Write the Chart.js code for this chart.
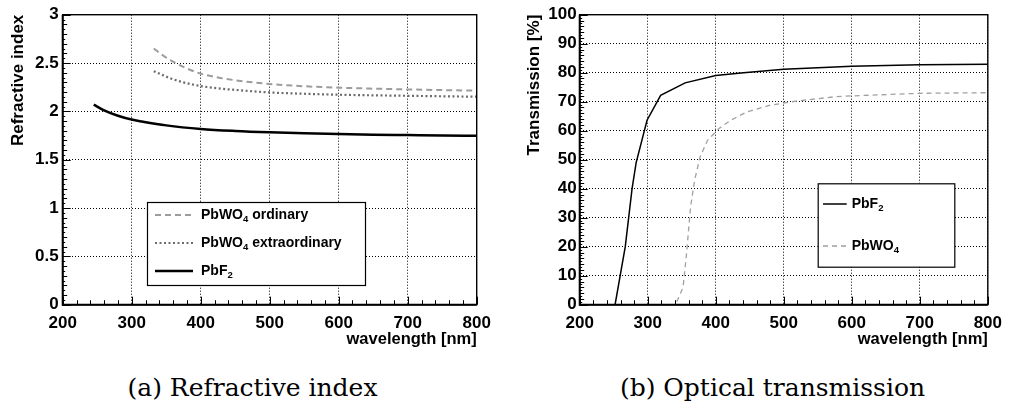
<!DOCTYPE html>
<html>
<head>
<meta charset="utf-8">
<script src="https://cdn.jsdelivr.net/npm/chart.js@4.4.1/dist/chart.umd.min.js"></script>
<style>
  body { margin: 0; background: #fff; }
  #wrap { position: relative; width: 1010px; height: 403px; overflow: hidden; background: #fff; }
  canvas { position: absolute; top: 0; }
  #cvIndex { left: 0; }
  #cvTrans { left: 505px; }
  .caption {
    position: absolute; top: 375px; width: 505px; text-align: center;
    font-family: 'DejaVu Serif', serif; font-size: 25px; line-height: 25px; color: #000;
  }
</style>
</head>
<body>
<div id="wrap">
  <canvas id="cvIndex" width="505" height="355"></canvas>
  <canvas id="cvTrans" width="505" height="355"></canvas>
  <div class="caption" style="left:0">(a) Refractive index</div>
  <div class="caption" style="left:520px">(b) Optical transmission</div>
</div>
<script>
// refractive index vs wavelength
const pbf2Wl = [245, 260, 280, 300, 315, 350, 400, 450, 500, 550, 600, 650, 700, 750, 800];
const pbf2Index = [2.07, 2.01, 1.955, 1.915, 1.895, 1.855, 1.818, 1.797, 1.783, 1.773, 1.765, 1.759, 1.755, 1.751, 1.748];
const pbwo4Wl = [332, 345, 356, 375, 400, 425, 450, 500, 550, 600, 650, 700, 750, 800];
const pbwo4Ordinary = [2.65, 2.58, 2.53, 2.46, 2.39, 2.35, 2.322, 2.283, 2.26, 2.245, 2.235, 2.227, 2.22, 2.214];
const pbwo4Extra = [2.415, 2.375, 2.342, 2.30, 2.262, 2.238, 2.222, 2.196, 2.182, 2.172, 2.166, 2.161, 2.156, 2.152];

// transmission [%] vs wavelength
const transPbf2Wl = [200, 252, 267, 277, 283, 299, 319, 355, 400, 441, 500, 600, 700, 800];
const transPbf2 = [0, 0, 20, 40, 49, 63.6, 72.2, 76.5, 79, 80, 81.2, 82.2, 82.7, 82.9];
const transPbwo4Wl = [200, 341, 352, 357, 363, 369, 377, 388, 405, 422, 446, 480, 518, 575, 600, 700, 800];
const transPbwo4 = [0, 0, 6, 17.5, 33.7, 43, 51, 56.7, 60.8, 63.6, 66.5, 68.8, 70.2, 71.7, 72.0, 72.9, 73.1];

const wlTicks = [200, 300, 400, 500, 600, 700, 800];
const indexTicks = [0, 0.5, 1, 1.5, 2, 2.5, 3];
const transTicks = [0, 10, 20, 30, 40, 50, 60, 70, 80, 90, 100];

Chart.defaults.font.family = '"Liberation Sans", Arial, sans-serif';
Chart.defaults.color = '#000';

function pts(xs, ys) {
  return xs.map((x, i) => ({ x: x, y: ys[i] }));
}

// label text with digits after letters drawn as subscripts (PbF2, PbWO4)
function drawLabel(ctx, text, x, y, size) {
  const parts = text.split(/(?<=[A-Za-z])(\d+)/);
  let cx = x;
  ctx.textBaseline = 'middle';
  ctx.textAlign = 'left';
  parts.forEach((p, i) => {
    const sub = i % 2 === 1;
    ctx.font = 'bold ' + (sub ? size * 0.68 : size) + 'px "Liberation Sans"';
    ctx.fillText(p, cx, sub ? y + size * 0.32 : y);
    cx += ctx.measureText(p).width;
  });
}

// three tick levels: primary, secondary, tertiary
function tickLen(i, major, mid) {
  if (i % major === 0) return 8;
  return i % mid === 0 ? 4.5 : 2.5;
}

// frame, inward tick marks and the boxed legend
const rootFrame = {
  id: 'rootFrame',
  afterDatasetsDraw(chart, args, opts) {
    const { ctx, chartArea: a, scales: { x, y } } = chart;
    ctx.save();
    ctx.strokeStyle = '#000';
    ctx.lineWidth = 1;
    ctx.beginPath();
    const nx = Math.round((x.max - x.min) / opts.xStep);
    for (let i = 0; i <= nx; i++) {
      const px = Math.round(x.getPixelForValue(x.min + i * opts.xStep)) + 0.5;
      ctx.moveTo(px, a.bottom);
      ctx.lineTo(px, a.bottom - tickLen(i, opts.xMajor, opts.xMid));
    }
    const ny = Math.round((y.max - y.min) / opts.yStep);
    for (let i = 0; i <= ny; i++) {
      const py = Math.round(y.getPixelForValue(y.min + i * opts.yStep)) + 0.5;
      ctx.moveTo(a.left, py);
      ctx.lineTo(a.left + tickLen(i, opts.yMajor, opts.yMid), py);
    }
    ctx.stroke();

    ctx.lineWidth = 1.4;
    ctx.strokeRect(a.left, a.top, a.right - a.left, a.bottom - a.top);
    ctx.lineWidth = 2;
    ctx.beginPath();
    ctx.moveTo(a.left, a.top);
    ctx.lineTo(a.left, a.bottom);
    ctx.lineTo(a.right, a.bottom);
    ctx.stroke();

    const L = opts.box;
    ctx.fillStyle = '#fff';
    ctx.fillRect(L.x, L.y, L.w, L.h);
    ctx.lineWidth = 1.2;
    ctx.strokeRect(L.x + 0.5, L.y + 0.5, L.w, L.h);
    L.rows.forEach((ry, i) => {
      const ds = chart.data.datasets[i];
      const yy = L.y + ry;
      ctx.save();
      ctx.strokeStyle = ds.borderColor;
      ctx.lineWidth = ds.borderWidth;
      ctx.setLineDash(ds.borderDash || []);
      ctx.beginPath();
      ctx.moveTo(L.x + L.sample[0], yy);
      ctx.lineTo(L.x + L.sample[1], yy);
      ctx.stroke();
      ctx.restore();
      ctx.fillStyle = '#000';
      drawLabel(ctx, ds.label, L.x + L.textX, yy, 14);
    });
    ctx.restore();
  }
};

function xScale() {
  return {
    type: 'linear', min: 200, max: 800,
    afterBuildTicks: s => { s.ticks = wlTicks.map(v => ({ value: v })); },
    ticks: { callback: v => String(v), font: { size: 17, weight: 'bold' }, padding: 8, maxRotation: 0, autoSkip: false },
    grid: { color: '#000', lineWidth: 1, drawTicks: false },
    border: { display: false, dash: [1, 2] },
    title: { display: true, text: 'wavelength [nm]', align: 'end', font: { size: 16.5, weight: 'bold' }, padding: 0 },
    afterFit: s => { s.height = 45; }
  };
}

function yScale(max, ticks, title, width, titlePad, labelPad) {
  return {
    type: 'linear', min: 0, max: max,
    afterBuildTicks: s => { s.ticks = ticks.map(v => ({ value: v })); },
    ticks: { callback: v => String(v), font: { size: 17, weight: 'bold' }, padding: labelPad, autoSkip: false },
    grid: { color: '#000', lineWidth: 1, drawTicks: false },
    border: { display: false, dash: [1, 2] },
    title: { display: true, text: title, align: 'end', font: { size: 17, weight: 'bold' }, padding: { top: titlePad, bottom: 0 } },
    afterFit: s => { s.width = width; }
  };
}

new Chart(document.getElementById('cvIndex'), {
  type: 'line',
  data: {
    datasets: [
      { label: 'PbWO4 ordinary', data: pts(pbwo4Wl, pbwo4Ordinary), borderColor: '#9c9c9c', borderWidth: 2, borderDash: [6, 4] },
      { label: 'PbWO4 extraordinary', data: pts(pbwo4Wl, pbwo4Extra), borderColor: '#6c6c6c', borderWidth: 2.2, borderDash: [2, 2.5] },
      { label: 'PbF2', data: pts(pbf2Wl, pbf2Index), borderColor: '#000', borderWidth: 2.5 }
    ]
  },
  options: {
    responsive: false, animation: false, devicePixelRatio: 1,
    elements: { point: { radius: 0 }, line: { tension: 0.3, cubicInterpolationMode: 'monotone' } },
    layout: { padding: { top: 14.7, right: 28.3, bottom: 5.3, left: 0 } },
    scales: {
      x: xScale(),
      y: yScale(3, indexTicks, 'Refractive index', 62.7, 7.8, 4)
    },
    plugins: {
      legend: { display: false }, tooltip: { enabled: false },
      rootFrame: { xStep: 20, xMajor: 5, xMid: 1, yStep: 0.05, yMajor: 10, yMid: 2,
        box: { x: 147, y: 202, w: 218, h: 83, rows: [13, 41, 69], sample: [8, 46], textX: 54 } }
    }
  },
  plugins: [rootFrame]
});

new Chart(document.getElementById('cvTrans'), {
  type: 'line',
  data: {
    datasets: [
      { label: 'PbF2', data: pts(transPbf2Wl, transPbf2), borderColor: '#000', borderWidth: 1.5 },
      { label: 'PbWO4', data: pts(transPbwo4Wl, transPbwo4), borderColor: '#a0a0a0', borderWidth: 1.3, borderDash: [5, 4] }
    ]
  },
  options: {
    responsive: false, animation: false, devicePixelRatio: 1,
    elements: { point: { radius: 0 }, line: { tension: 0 } },
    layout: { padding: { top: 14.7, right: 14.5, bottom: 5.3, left: 0 } },
    scales: {
      x: xScale(),
      y: yScale(100, transTicks, 'Transmission [%]', 74.7, 18.8, 3)
    },
    plugins: {
      legend: { display: false }, tooltip: { enabled: false },
      rootFrame: { xStep: 20, xMajor: 5, xMid: 1, yStep: 1, yMajor: 10, yMid: 2,
        box: { x: 312.7, y: 183.3, w: 136.6, h: 83.4, rows: [20.7, 62.7], sample: [5.3, 29], textX: 34 } }
    }
  },
  plugins: [rootFrame]
});
</script>
</body>
</html>
